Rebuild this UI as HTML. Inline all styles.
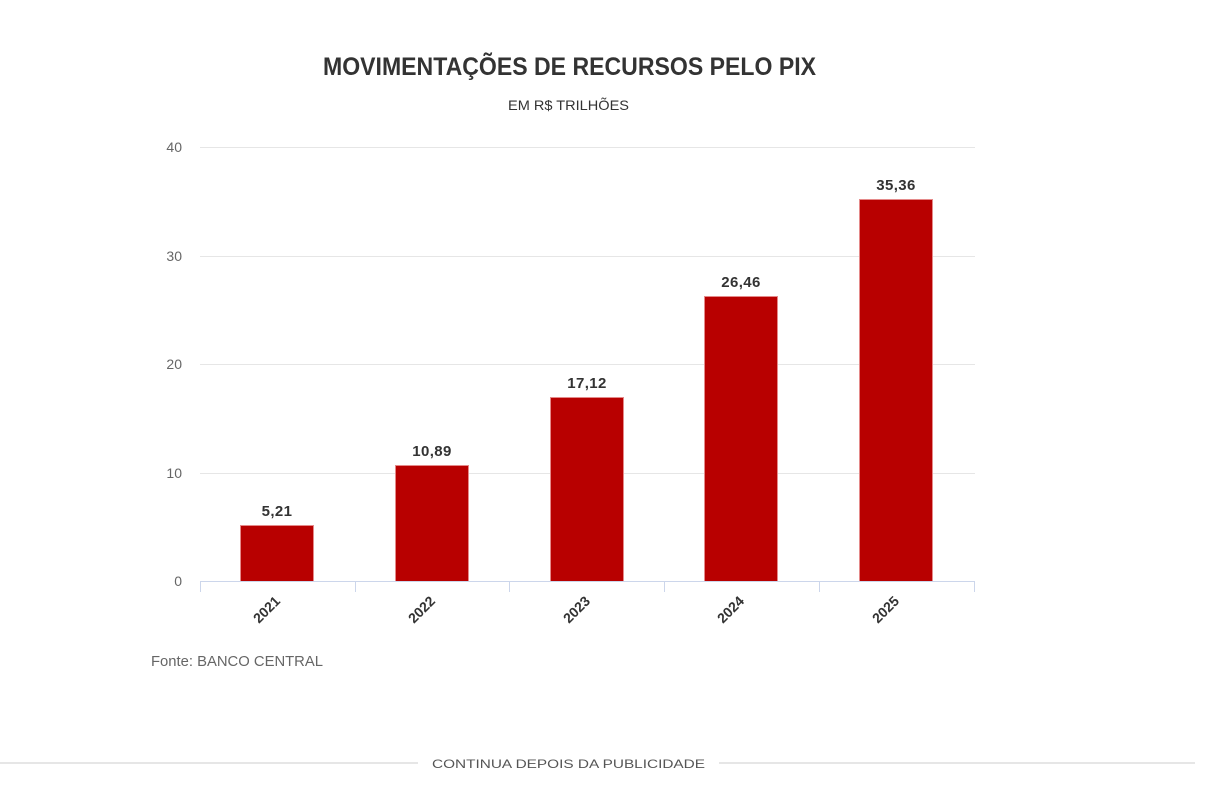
<!DOCTYPE html>
<html>
<head>
<meta charset="utf-8">
<style>
html,body{margin:0;padding:0;background:#fff;}
svg{display:block;}
text{font-family:"Liberation Sans",sans-serif;}
</style>
</head>
<body>
<svg width="1213" height="800" viewBox="0 0 1213 800" xmlns="http://www.w3.org/2000/svg">
  <rect width="1213" height="800" fill="#fff"/>
  <!-- Title -->
  <text x="569.5" y="75" text-anchor="middle" font-size="25" font-weight="bold" fill="#333" textLength="493" lengthAdjust="spacingAndGlyphs">MOVIMENTAÇÕES DE RECURSOS PELO PIX</text>
  <text x="568.5" y="110" text-anchor="middle" font-size="14" fill="#333" textLength="121" lengthAdjust="spacingAndGlyphs">EM R$ TRILHÕES</text>

  <!-- gridlines -->
  <g stroke="#e6e6e6" stroke-width="1">
    <line x1="200" y1="147.5" x2="975" y2="147.5"/>
    <line x1="200" y1="256.5" x2="975" y2="256.5"/>
    <line x1="200" y1="364.5" x2="975" y2="364.5"/>
    <line x1="200" y1="473.5" x2="975" y2="473.5"/>
  </g>

  <!-- y labels -->
  <g font-size="14" fill="#666" text-anchor="end">
    <text x="182" y="152">40</text>
    <text x="182" y="261">30</text>
    <text x="182" y="369">20</text>
    <text x="182" y="478">10</text>
    <text x="182" y="586">0</text>
  </g>

  <!-- bars -->
  <g fill="#b80000" stroke="#e58a8a" stroke-width="1">
    <rect x="240.5" y="525.5" width="73" height="56"/>
    <rect x="395.5" y="465.5" width="73" height="116"/>
    <rect x="550.5" y="397.5" width="73" height="184"/>
    <rect x="704.5" y="296.5" width="73" height="285"/>
    <rect x="859.5" y="199.5" width="73" height="382"/>
  </g>

  <!-- axis line & ticks -->
  <g stroke="#ccd6eb" stroke-width="1">
    <line x1="200" y1="581.5" x2="975" y2="581.5"/>
    <line x1="200.5" y1="581.5" x2="200.5" y2="592"/>
    <line x1="355.5" y1="581.5" x2="355.5" y2="592"/>
    <line x1="509.5" y1="581.5" x2="509.5" y2="592"/>
    <line x1="664.5" y1="581.5" x2="664.5" y2="592"/>
    <line x1="819.5" y1="581.5" x2="819.5" y2="592"/>
    <line x1="974.5" y1="581.5" x2="974.5" y2="592"/>
  </g>

  <!-- data labels -->
  <g font-size="15" font-weight="bold" fill="#333" text-anchor="middle" letter-spacing="0.4">
    <text x="277" y="516">5,21</text>
    <text x="432" y="456">10,89</text>
    <text x="587" y="388">17,12</text>
    <text x="741" y="287">26,46</text>
    <text x="896" y="190">35,36</text>
  </g>

  <!-- x labels -->
  <g font-size="14" font-weight="bold" fill="#333" text-anchor="end">
    <text transform="translate(281,602) rotate(-45)">2021</text>
    <text transform="translate(436,602) rotate(-45)">2022</text>
    <text transform="translate(591,602) rotate(-45)">2023</text>
    <text transform="translate(745,602) rotate(-45)">2024</text>
    <text transform="translate(900,602) rotate(-45)">2025</text>
  </g>

  <!-- source -->
  <text x="151" y="666" font-size="15" fill="#666" textLength="172" lengthAdjust="spacingAndGlyphs">Fonte: BANCO CENTRAL</text>

  <!-- bottom separator -->
  <g stroke="#dddddd" stroke-width="1.5">
    <line x1="0" y1="763" x2="418" y2="763"/>
    <line x1="719" y1="763" x2="1195" y2="763"/>
  </g>
  <text x="568.5" y="768" text-anchor="middle" font-size="12" fill="#555" textLength="273" lengthAdjust="spacingAndGlyphs">CONTINUA DEPOIS DA PUBLICIDADE</text>
</svg>
</body>
</html>
